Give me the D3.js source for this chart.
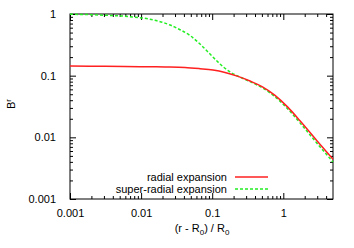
<html>
<head>
  <meta charset="utf-8">
  <script src="https://d3js.org/d3.v7.min.js"></script>
  <style>
    body { margin: 0; background: #fff; }
    text { font-family: "Liberation Sans", Arial, sans-serif; font-size: 11px; fill: #000; }
  </style>
</head>
<body>
  <svg id="chart" width="354" height="248"></svg>
  <script>
    // values
    const radialX = [0.001, 0.0031, 0.00965, 0.0217, 0.0414, 0.0673, 0.1026, 0.1514, 0.2307, 0.340, 0.5018, 0.7645, 1.165, 1.718, 2.949, 5.0];
    const radialY = [0.1435, 0.142, 0.1398, 0.1382, 0.1357, 0.1297, 0.1231, 0.1125, 0.0973, 0.0819, 0.0665, 0.0480, 0.0306, 0.01854, 0.00889, 0.00442];
    const superX = [0.001, 0.00264, 0.00698, 0.01334, 0.0255, 0.03524, 0.04873, 0.06734, 0.09313, 0.1287, 0.178, 0.2307, 0.340, 0.5018, 0.7645, 1.165, 1.718, 2.949, 5.0];
    const superY = [0.99, 0.963, 0.904, 0.821, 0.663, 0.556, 0.448, 0.326, 0.2246, 0.1546, 0.1147, 0.0980, 0.0801, 0.0640, 0.0456, 0.0286, 0.01715, 0.00812, 0.00398];
    const xTicks = [0.001, 0.01, 0.1, 1];
    const yTicks = [0.001, 0.01, 0.1, 1];
    const xTickLabels = ["0.001", "0.01", "0.1", "1"];
    const yTickLabels = ["0.001", "0.01", "0.1", "1"];
    const seriesNames = ["radial expansion", "super-radial expansion"];

    const svg = d3.select("svg#chart");
    const margins = { top: 14, right: 21, bottom: 49, left: 70 };
    const width = 354 - margins.left - margins.right;
    const height = 248 - margins.top - margins.bottom;

    const xScale = d3.scaleLog().domain([0.001, 5]).range([0, width]);
    const yScale = d3.scaleLog().domain([0.001, 1]).range([height, 0]);

    const plot = svg.append("g")
      .attr("transform", `translate(${margins.left},${margins.top})`);

    // minor ticks: 2..9 in every decade inside the domain
    function minorTicks(domain) {
      let out = [];
      for (let e = -3; e <= 1; e++) {
        for (let m = 2; m <= 9; m++) {
          let v = m * Math.pow(10, e);
          if (v > domain[0] && v < domain[1]) out.push(v);
        }
      }
      return out;
    }
    const xMinor = minorTicks(xScale.domain());
    const yMinor = minorTicks(yScale.domain());

    // bottom + top axes (ticks pointing inward)
    plot.append("g")
      .attr("transform", `translate(0,${height})`)
      .call(d3.axisBottom(xScale).tickValues(xTicks).tickSize(-6).tickPadding(10)
        .tickFormat((d, i) => xTickLabels[i]));
    plot.append("g")
      .attr("transform", `translate(0,${height})`)
      .call(d3.axisBottom(xScale).tickValues(xMinor).tickSize(-3).tickFormat(""));
    plot.append("g")
      .call(d3.axisTop(xScale).tickValues(xTicks).tickSize(-6).tickFormat(""));
    plot.append("g")
      .call(d3.axisTop(xScale).tickValues(xMinor).tickSize(-3).tickFormat(""));

    // left + right axes
    plot.append("g")
      .call(d3.axisLeft(yScale).tickValues(yTicks).tickSize(-6).tickPadding(14)
        .tickFormat((d, i) => yTickLabels[i]));
    plot.append("g")
      .call(d3.axisLeft(yScale).tickValues(yMinor).tickSize(-3).tickFormat(""));
    plot.append("g")
      .attr("transform", `translate(${width},0)`)
      .call(d3.axisRight(yScale).tickValues(yTicks).tickSize(-6).tickFormat(""));
    plot.append("g")
      .attr("transform", `translate(${width},0)`)
      .call(d3.axisRight(yScale).tickValues(yMinor).tickSize(-3).tickFormat(""));

    plot.selectAll(".domain").remove();
    plot.selectAll(".tick line").attr("stroke", "#000");
    plot.selectAll(".tick text").style("font-size", "11px");

    // border
    plot.append("rect")
      .attr("x", 0).attr("y", 0)
      .attr("width", width).attr("height", height)
      .attr("fill", "none")
      .attr("stroke", "#000")
      .attr("stroke-width", 1);

    // curves
    const line = d3.line()
      .x(d => xScale(d[0]))
      .y(d => yScale(d[1]))
      .curve(d3.curveMonotoneX);

    const radialData = radialX.map((x, i) => [x, radialY[i]]);
    const superData = superX.map((x, i) => [x, superY[i]]);

    plot.append("path")
      .datum(superData)
      .attr("d", line)
      .attr("fill", "none")
      .attr("stroke", "#22ee22")
      .attr("stroke-width", 1.5)
      .attr("stroke-dasharray", "3,2");

    plot.append("path")
      .datum(radialData)
      .attr("d", line)
      .attr("fill", "none")
      .attr("stroke", "#ff2020")
      .attr("stroke-width", 1.5);

    // legend
    const legendStyles = [
      { color: "#ff2020", dash: null },
      { color: "#22ee22", dash: "3,2" }
    ];
    seriesNames.forEach((name, i) => {
      let ly = 177 + i * 12;
      svg.append("text")
        .attr("x", 227)
        .attr("y", ly + 4)
        .attr("text-anchor", "end")
        .text(name);
      svg.append("line")
        .attr("x1", 235).attr("x2", 268)
        .attr("y1", ly).attr("y2", ly)
        .attr("stroke", legendStyles[i].color)
        .attr("stroke-width", 1.5)
        .attr("stroke-dasharray", legendStyles[i].dash);
    });

    // axis titles
    const xLabel = svg.append("text")
      .attr("x", 202)
      .attr("y", 232)
      .attr("text-anchor", "middle");
    xLabel.append("tspan").text("(r - R");
    xLabel.append("tspan").attr("dy", 3).style("font-size", "8px").text("0");
    xLabel.append("tspan").attr("dy", -3).text(") / R");
    xLabel.append("tspan").attr("dy", 3).style("font-size", "8px").text("0");

    const yLabel = svg.append("text")
      .attr("transform", "translate(15,104) rotate(-90)")
      .attr("text-anchor", "middle");
    yLabel.append("tspan").text("B");
    yLabel.append("tspan").attr("dy", -4).style("font-size", "8px").text("r");
  </script>
</body>
</html>
